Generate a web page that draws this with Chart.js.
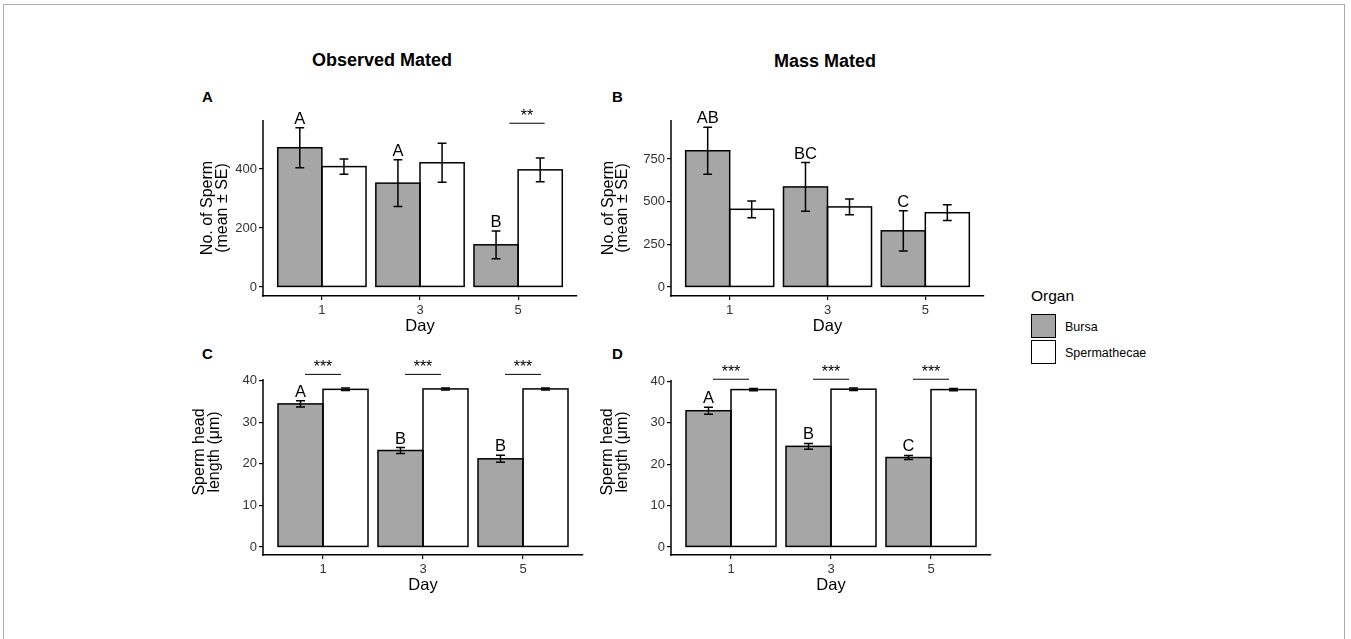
<!DOCTYPE html>
<html><head><meta charset="utf-8">
<script src="https://cdn.jsdelivr.net/npm/chart.js@4.4.0/dist/chart.umd.min.js"></script>
<style>
html,body{margin:0;padding:0;background:#fff;}
body{width:1351px;height:639px;position:relative;overflow:hidden;font-family:"Liberation Sans",Arial,sans-serif;}
canvas{position:absolute;left:0;top:0;}
.frame{position:absolute;left:3px;top:4px;width:1342px;height:700px;border:1.5px solid #ababab;box-sizing:border-box;}
.t{position:absolute;white-space:nowrap;color:#000;transform:translate(-50%,-50%);}
.pl{position:absolute;font-weight:bold;font-size:15px;line-height:15px;}
.lg{position:absolute;width:25px;height:24px;border:1.5px solid #000;box-sizing:border-box;}
.lt{position:absolute;font-size:12.5px;line-height:14px;transform:translateY(-50%);white-space:nowrap;}
</style></head><body>
<div class="frame"></div>
<div class="t" style="left:382px;top:60px;font-weight:bold;font-size:18px;">Observed Mated</div>
<div class="t" style="left:825px;top:61px;font-weight:bold;font-size:18px;">Mass Mated</div>
<div class="pl" style="left:202px;top:89px;">A</div>
<div class="pl" style="left:612px;top:89px;">B</div>
<div class="pl" style="left:202px;top:346px;">C</div>
<div class="pl" style="left:612px;top:346px;">D</div>
<div id="legend"></div>
<script>
// ---------------- data ----------------
const days = [1, 3, 5];
const organs = ['Bursa', 'Spermathecae'];
const organColors = ['#A6A6A6', '#FFFFFF'];
const legendTitle = 'Organ';

// A: Observed mated, sperm number
const obsCountBursa = [472, 352, 143];
const obsCountBursaSE = [68, 79, 47];
const obsCountSperm = [408, 421, 397];
const obsCountSpermSE = [26, 66, 40];
const obsCountLetters = ['A', 'A', 'B'];
const obsCountStars = ['', '', '**'];
const obsCountTicks = [0, 200, 400];

// B: Mass mated, sperm number
const massCountBursa = [798, 586, 329];
const massCountBursaSE = [137, 143, 118];
const massCountSperm = [455, 469, 435];
const massCountSpermSE = [49, 46, 46];
const massCountLetters = ['AB', 'BC', 'C'];
const massCountStars = ['', '', ''];
const massCountTicks = [0, 250, 500, 750];

// C: Observed mated, sperm head length
const obsHeadBursa = [34.4, 23.2, 21.2];
const obsHeadBursaSE = [0.75, 0.7, 0.85];
const obsHeadSperm = [37.9, 38.0, 38.0];
const obsHeadSpermSE = [0.3, 0.25, 0.25];
const obsHeadLetters = ['A', 'B', 'B'];
const obsHeadStars = ['***', '***', '***'];
const headTicks = [0, 10, 20, 30, 40];

// D: Mass mated, sperm head length
const massHeadBursa = [32.9, 24.3, 21.6];
const massHeadBursaSE = [0.85, 0.7, 0.5];
const massHeadSperm = [38.0, 38.1, 38.0];
const massHeadSpermSE = [0.25, 0.3, 0.25];
const massHeadLetters = ['A', 'B', 'C'];
const massHeadStars = ['***', '***', '***'];

const countTitle = ['No. of Sperm', '(mean \u00b1 SE)'];
const headTitle = ['Sperm head', 'length (\u03bcm)'];
const xTitle = 'Day';

// ---------------- layout ----------------
const W = 1351, H = 639;
const FONT = '"Liberation Sans", Arial, sans-serif';
Chart.defaults.font.family = FONT;

const panels = [
  {id:'A', bursa:obsCountBursa, bursaSE:obsCountBursaSE, sperm:obsCountSperm, spermSE:obsCountSpermSE,
   letters:obsCountLetters, stars:obsCountStars, ticks:obsCountTicks, yTitle:countTitle,
   g:{axisX:263, top:120, axisY:296, right:577, yMin:-30.5, yMax:566, yCap:566, sigY:555, sigDx:0.18, tPad:8}},
  {id:'B', bursa:massCountBursa, bursaSE:massCountBursaSE, sperm:massCountSperm, spermSE:massCountSpermSE,
   letters:massCountLetters, stars:massCountStars, ticks:massCountTicks, yTitle:countTitle,
   g:{axisX:671, top:120, axisY:296, right:984, yMin:-52.7, yMax:978, yCap:978, sigY:0, sigDx:0, tPad:0.5}},
  {id:'C', bursa:obsHeadBursa, bursaSE:obsHeadBursaSE, sperm:obsHeadSperm, spermSE:obsHeadSpermSE,
   letters:obsHeadLetters, stars:obsHeadStars, ticks:headTicks, yTitle:headTitle,
   g:{axisX:263, top:349, axisY:555, right:583, yMin:-1.92, yMax:47.6, yCap:40.4, sigY:41.5, sigDx:0, tPad:0}},
  {id:'D', bursa:massHeadBursa, bursaSE:massHeadBursaSE, sperm:massHeadSperm, spermSE:massHeadSpermSE,
   letters:massHeadLetters, stars:massHeadStars, ticks:headTicks, yTitle:headTitle,
   g:{axisX:671, top:349, axisY:555, right:991, yMin:-1.93, yMax:47.8, yCap:40.3, sigY:40.5, sigDx:0, tPad:0}}
];

const YW = 70, XH = 40;

function annot(p) {
  return {
    id: 'annot' + p.id,
    afterDatasetsDraw(chart) {
      const ctx = chart.ctx, xs = chart.scales.x, ys = chart.scales.y, ca = chart.chartArea;
      ctx.save();
      ctx.strokeStyle = '#000';
      // y axis line (capped)
      ctx.lineWidth = 1.5;
      ctx.beginPath();
      ctx.moveTo(ca.left, ys.getPixelForValue(p.g.yCap));
      ctx.lineTo(ca.left, ca.bottom + 0.75);
      ctx.stroke();
      const means = [p.bursa, p.sperm], ses = [p.bursaSE, p.spermSE];
      chart.data.datasets.forEach((ds, di) => {
        const meta = chart.getDatasetMeta(di);
        meta.data.forEach((bar) => {
          const pr = bar.getProps(['x', 'y', 'base', 'width'], true);
          ctx.lineWidth = 1.5;
          ctx.strokeRect(pr.x - pr.width / 2, pr.y, pr.width, pr.base - pr.y);
        });
      });
      chart.data.datasets.forEach((ds, di) => {
        const meta = chart.getDatasetMeta(di);
        meta.data.forEach((bar, i) => {
          const pr = bar.getProps(['x', 'width'], true);
          const m = means[di][i], s = ses[di][i];
          const yt = ys.getPixelForValue(m + s), yb = ys.getPixelForValue(m - s);
          const cw = pr.width * 0.1;
          ctx.lineWidth = 1.5;
          ctx.beginPath();
          ctx.moveTo(pr.x, yt); ctx.lineTo(pr.x, yb);
          ctx.moveTo(pr.x - cw, yt); ctx.lineTo(pr.x + cw, yt);
          ctx.moveTo(pr.x - cw, yb); ctx.lineTo(pr.x + cw, yb);
          ctx.stroke();
          if (di === 0 && p.letters[i]) {
            ctx.fillStyle = '#000';
            ctx.font = '16.5px ' + FONT;
            ctx.textAlign = 'center';
            ctx.textBaseline = 'alphabetic';
            ctx.fillText(p.letters[i], pr.x, yt - 4);
          }
        });
      });
      const sp = xs.getPixelForValue(days[1]) - xs.getPixelForValue(days[0]);
      days.forEach((d, i) => {
        if (!p.stars[i]) return;
        const cx = xs.getPixelForValue(d + p.g.sigDx), ly = ys.getPixelForValue(p.g.sigY);
        ctx.lineWidth = 1;
        ctx.beginPath();
        ctx.moveTo(cx - sp * 0.18, ly); ctx.lineTo(cx + sp * 0.18, ly);
        ctx.stroke();
        ctx.fillStyle = '#000';
        ctx.font = '16px ' + FONT;
        ctx.textAlign = 'center';
        ctx.textBaseline = 'alphabetic';
        ctx.fillText(p.stars[i], cx, ly - 2);
      });
      ctx.restore();
    }
  };
}

panels.forEach(p => {
  const g = p.g;
  const cv = document.createElement('canvas');
  cv.width = W; cv.height = H;
  cv.style.width = W + 'px'; cv.style.height = H + 'px';
  document.body.appendChild(cv);
  const span = days[1] - days[0];
  new Chart(cv, {
    type: 'bar',
    data: {
      datasets: [
        {label: organs[0], data: days.map((d, i) => ({x: d, y: p.bursa[i]})), backgroundColor: organColors[0]},
        {label: organs[1], data: days.map((d, i) => ({x: d, y: p.sperm[i]})), backgroundColor: organColors[1]}
      ]
    },
    options: {
      responsive: false, animation: false, events: [], devicePixelRatio: 1,
      layout: {padding: {left: g.axisX - YW, top: g.top, right: W - g.right, bottom: H - g.axisY - XH}},
      plugins: {legend: {display: false}, tooltip: {enabled: false}},
      datasets: {bar: {categoryPercentage: 0.9, barPercentage: 1, borderWidth: 0}},
      scales: {
        x: {
          type: 'linear', offset: false,
          min: days[0] - 0.6 * span, max: days[days.length - 1] + 0.6 * span,
          afterBuildTicks: s => { s.ticks = days.map(v => ({value: v})); },
          afterFit: s => { s.height = XH; },
          grid: {display: true, offset: false, drawOnChartArea: false, drawTicks: true, tickLength: 4, color: '#000', lineWidth: 1.2},
          border: {display: true, color: '#000', width: 1.5},
          ticks: {padding: 3, color: '#333', font: {size: 13}, maxRotation: 0},
          title: {display: true, text: xTitle, color: '#000', font: {size: 16.5, lineHeight: 1.2}, padding: {top: 0, bottom: 0}}
        },
        y: {
          type: 'linear', min: g.yMin, max: g.yMax,
          afterBuildTicks: s => { s.ticks = p.ticks.map(v => ({value: v})); },
          afterFit: s => { s.width = YW; },
          grid: {display: true, drawOnChartArea: false, drawTicks: true, tickLength: 4, color: '#000', lineWidth: 1.2},
          border: {display: false},
          ticks: {padding: 2, color: '#333', font: {size: 13}},
          title: {display: true, text: p.yTitle, color: '#000', font: {size: 16, lineHeight: 0.88}, padding: {top: g.tPad, bottom: 0}}
        }
      }
    },
    plugins: [annot(p)]
  });
});

// legend from the series names/colours
const lg = document.getElementById('legend');
const lt = document.createElement('div');
lt.className = 'lt'; lt.style.left = '1031px'; lt.style.top = '296px'; lt.style.fontSize = '15.5px';
lt.textContent = legendTitle; lg.appendChild(lt);
organs.forEach((o, i) => {
  const b = document.createElement('div');
  b.className = 'lg'; b.style.left = '1031px'; b.style.top = (314 + i * 26) + 'px'; b.style.background = organColors[i];
  lg.appendChild(b);
  const t = document.createElement('div');
  t.className = 'lt'; t.style.left = '1065px'; t.style.top = (326.5 + i * 26) + 'px';
  t.textContent = o; lg.appendChild(t);
});
</script>
</body></html>
